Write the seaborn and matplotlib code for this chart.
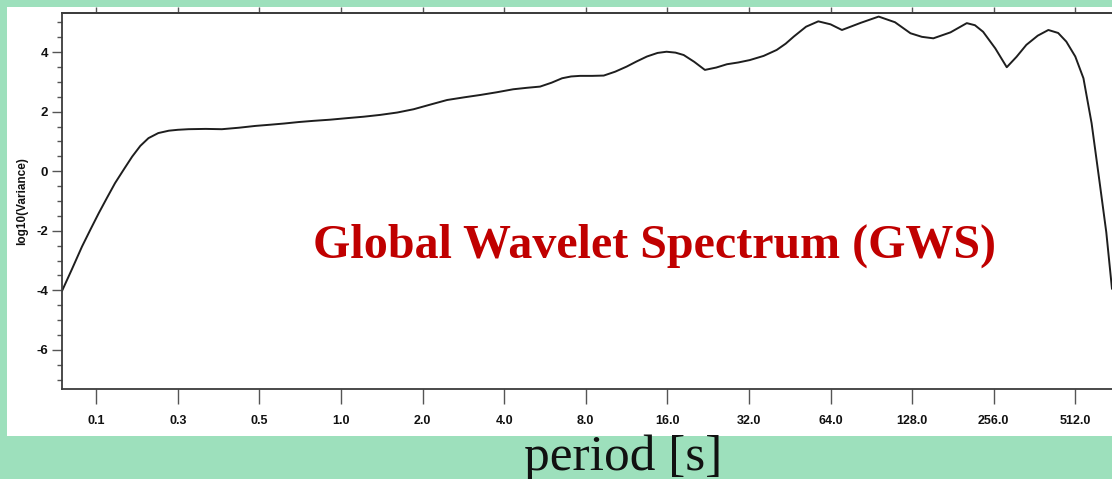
import matplotlib
matplotlib.use("Agg")
import matplotlib.pyplot as plt
import seaborn as sns
import pandas as pd
from matplotlib.patches import Rectangle
from matplotlib.ticker import FixedLocator, MultipleLocator

# Period tick labels (evenly spaced positions along the x axis)
period_labels = ["0.1", "0.3", "0.5", "1.0", "2.0", "4.0", "8.0",
                 "16.0", "32.0", "64.0", "128.0", "256.0", "512.0"]

# Global wavelet spectrum: position along the period axis (tick units)
period_pos = [-0.42, -0.30, -0.175, -0.07, 0.03, 0.13, 0.23, 0.34, 0.44, 0.54,
              0.64, 0.76, 0.89, 1.00, 1.13, 1.34, 1.54, 1.75, 1.95, 2.13,
              2.30, 2.48, 2.66, 2.87, 3.07, 3.28, 3.48, 3.69, 3.89, 4.10,
              4.30, 4.51, 4.71, 4.91, 5.11, 5.28, 5.44, 5.58, 5.71, 5.82,
              5.93, 6.08, 6.22, 6.36, 6.50, 6.62, 6.75, 6.88, 6.99, 7.10,
              7.20, 7.33, 7.46, 7.60, 7.73, 7.87, 8.01, 8.18, 8.34, 8.45,
              8.55, 8.70, 8.85, 9.00, 9.14, 9.37, 9.59, 9.79, 9.98, 10.12,
              10.26, 10.47, 10.67, 10.77, 10.87, 11.02, 11.16, 11.28, 11.40, 11.54,
              11.67, 11.79, 11.89, 12.00, 12.10, 12.20, 12.30, 12.38, 12.45]

# log10 of the variance at each position
log_variance = [-4.02, -3.30, -2.53, -1.95, -1.41, -0.90, -0.40, 0.07, 0.49, 0.85,
                1.11, 1.28, 1.36, 1.39, 1.41, 1.42, 1.41, 1.46, 1.52, 1.56,
                1.60, 1.65, 1.69, 1.73, 1.78, 1.83, 1.89, 1.97, 2.08, 2.24,
                2.39, 2.48, 2.56, 2.65, 2.75, 2.80, 2.84, 2.97, 3.12, 3.18,
                3.20, 3.20, 3.21, 3.34, 3.51, 3.68, 3.85, 3.97, 4.01, 3.98,
                3.90, 3.67, 3.40, 3.48, 3.59, 3.65, 3.73, 3.87, 4.07, 4.28,
                4.52, 4.85, 5.03, 4.93, 4.74, 4.98, 5.19, 5.00, 4.63, 4.51,
                4.46, 4.66, 4.97, 4.90, 4.68, 4.12, 3.49, 3.84, 4.24, 4.55,
                4.74, 4.64, 4.35, 3.85, 3.12, 1.61, -0.41, -2.05, -3.95]

df = pd.DataFrame({"pos": period_pos, "lv": log_variance})

sns.set_theme(style="ticks")
plt.rcParams["axes.unicode_minus"] = False
plt.rcParams["font.family"] = ["Liberation Sans", "DejaVu Sans"]

W, H = 1112, 479
fig = plt.figure(figsize=(W / 100, H / 100), dpi=100)
fig.patch.set_facecolor("#9de0bc")
fig.add_artist(Rectangle((7 / W, (H - 436) / H), 1.0, (436 - 7) / H,
                         transform=fig.transFigure, facecolor="white",
                         edgecolor="none", zorder=0))

ax = fig.add_axes([62 / W, (H - 389) / H, 1 - 62 / W, (389 - 13.3) / H])
ax.set_facecolor("white")

sns.lineplot(data=df, x="pos", y="lv", sort=False, estimator=None,
             color="#1e1e1e", linewidth=1.4, ax=ax)

ax.set_xlim(-0.42, 12.45)
ax.set_ylim(-7.31, 5.30)

spine_col = "#3c3c3c"
for side in ("left", "bottom", "top"):
    ax.spines[side].set_color(spine_col)
    ax.spines[side].set_linewidth(1.3)
ax.spines["right"].set_visible(False)

ax.xaxis.set_major_locator(FixedLocator(range(len(period_labels))))
ax.set_xticklabels(period_labels)
ax.yaxis.set_major_locator(FixedLocator([-6, -4, -2, 0, 2, 4]))
ax.yaxis.set_minor_locator(MultipleLocator(0.5))
ax.set_yticklabels(["-6", "-4", "-2", "0", "2", "4"])

ax.tick_params(axis="x", which="major", direction="out", length=10.5,
               width=1.0, color="#555555", pad=8, labelsize=9,
               labelcolor="#111111")
ax.tick_params(axis="y", which="major", direction="out", length=7,
               width=1.0, color="#555555", pad=3, labelsize=9.5,
               labelcolor="#111111")
ax.tick_params(axis="y", which="minor", direction="out", length=3.6,
               width=1.0, color="#555555")
for lab in ax.get_xticklabels() + ax.get_yticklabels():
    lab.set_fontweight("bold")

top = ax.secondary_xaxis("top")
top.xaxis.set_major_locator(FixedLocator(range(len(period_labels))))
top.tick_params(direction="out", length=4.5, width=1.0, color="#555555",
                labeltop=False)
top.spines["top"].set_color(spine_col)
top.spines["top"].set_linewidth(1.3)

ax.set_xlabel("")
ax.set_ylabel("log10(Variance)", fontsize=8.5, fontweight="bold",
              color="#111111", labelpad=6)

fig.text(313 / W, (H - 258) / H, "Global Wavelet Spectrum (GWS)",
         family="Liberation Serif", fontweight="bold", fontsize=34.6,
         color="#c00000", ha="left", va="baseline")
fig.text(623 / W, (H - 470) / H, "period [s]", family="Liberation Serif",
         fontsize=37, color="#111111", ha="center", va="baseline")

fig.savefig("out.png", dpi=100, facecolor=fig.get_facecolor())
